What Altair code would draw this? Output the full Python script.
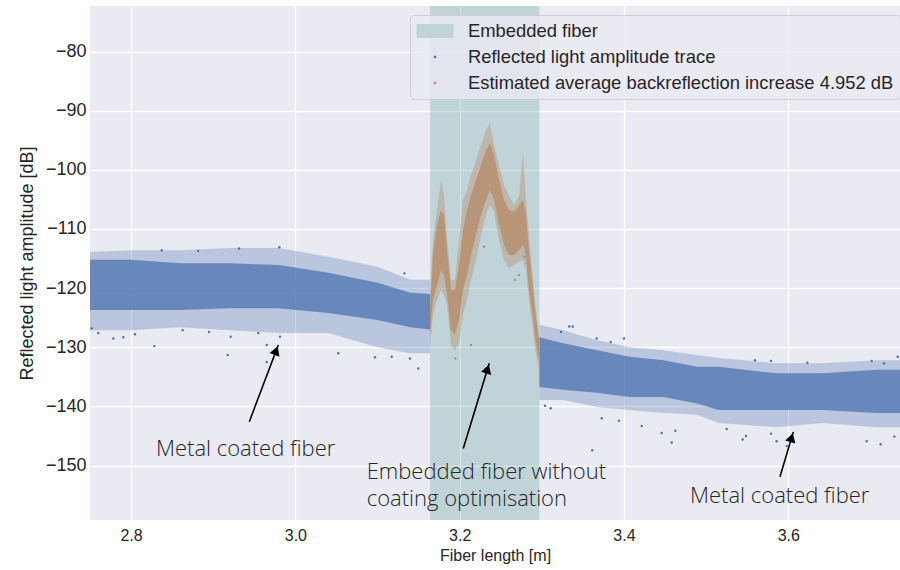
import math
import altair as alt
import pandas as pd

# ---------------- axes ----------------
X_DOMAIN = [2.75, 3.736]
Y_DOMAIN = [-159.2, -72.3]
X_TICKS = [2.8, 3.0, 3.2, 3.4, 3.6]
Y_TICKS = [-150, -140, -130, -120, -110, -100, -90, -80]
WIDTH, HEIGHT = 810, 514

# ---------------- embedded fiber region ----------------
EMB_START, EMB_END = 3.164, 3.297

# ---------------- blue trace: metal coated fiber (left) ----------------
LEFT_X = [2.75, 2.80, 2.86, 2.92, 2.98, 3.04, 3.10, 3.14, 3.164]
LEFT_CORE_TOP = [-115.2, -115.2, -115.8, -115.8, -116.1, -117.4, -119.1, -120.8, -121.0]
LEFT_CORE_BOT = [-123.7, -123.7, -123.7, -123.4, -123.4, -124.2, -125.4, -126.6, -127.0]
LEFT_OUT_TOP = [-113.9, -113.6, -113.6, -113.2, -113.2, -114.7, -116.4, -118.6, -118.6]
LEFT_OUT_BOT = [-127.1, -127.1, -126.6, -127.1, -127.6, -127.6, -130.0, -131.0, -131.0]

# ---------------- blue trace: metal coated fiber (right) ----------------
RIGHT_X = [3.297, 3.326, 3.367, 3.407, 3.448, 3.489, 3.515, 3.586, 3.641, 3.708, 3.736]
RIGHT_CORE_TOP = [-128.3, -129.3, -130.5, -131.6, -132.2, -133.3, -133.3, -134.4, -134.4, -133.8, -133.8]
RIGHT_CORE_BOT = [-136.7, -137.2, -137.7, -138.4, -138.4, -139.5, -140.6, -140.6, -140.6, -141.1, -141.1]
RIGHT_OUT_TOP = [-126.2, -127.1, -128.8, -130.0, -130.5, -131.3, -131.8, -132.7, -132.7, -132.2, -132.2]
RIGHT_OUT_BOT = [-138.9, -138.9, -140.1, -140.6, -141.1, -141.4, -142.8, -143.5, -142.8, -143.5, -143.5]

# sparse blue points outside the dense band
BLUE_PTS_X = [2.7521, 2.7601, 2.7784, 2.7905, 2.8048, 2.8283, 2.9176, 2.9213, 2.8628, 2.8949,
              2.9549, 2.8373, 2.9314, 2.8818, 2.9804, 3.0522, 3.0969, 3.1173, 3.1496, 3.1395,
              2.9651, 2.9813, 2.9651, 3.1326, 3.3614, 3.3939, 3.3729, 3.4581, 3.4459, 3.4216,
              3.4625, 3.3334, 3.3376, 3.3233, 3.4000, 3.3668, 3.3838, 3.3039, 3.3108, 3.5445,
              3.5859, 3.5981, 3.5790, 3.6955, 3.7125, 3.7291, 3.5595, 3.5790, 3.6232, 3.7015,
              3.7165, 3.7332, 3.5250, 3.5485]
BLUE_PTS_Y = [-126.8, -127.6, -128.5, -128.3, -127.8, -129.8, -131.3, -128.2, -127.1, -127.4,
              -127.6, -113.6, -113.3, -113.7, -113.1, -131.0, -131.7, -131.6, -133.6, -131.9,
              -129.6, -128.2, -132.5, -117.5, -147.4, -142.4, -142.0, -146.1, -144.5, -143.3,
              -144.1, -126.5, -126.5, -127.4, -128.5, -128.5, -129.1, -139.9, -140.3, -145.6,
              -145.9, -146.7, -144.6, -145.9, -146.4, -145.1, -132.2, -132.3, -132.6, -132.3,
              -132.7, -131.6, -143.8, -145.0]

# ---------------- orange trace: embedded fiber ----------------
ORANGE_X = [3.1639, 3.1675, 3.1724, 3.1773, 3.1809, 3.1846, 3.1894, 3.1943, 3.1992, 3.2040,
            3.2089, 3.2138, 3.2199, 3.2260, 3.2320, 3.2369, 3.2418, 3.2479, 3.2540, 3.2600,
            3.2661, 3.2722, 3.2771, 3.2807, 3.2844, 3.2893, 3.2929, 3.2966]
ORANGE_OUT_TOP = [-121.5, -111.9, -106.8, -101.7, -104.3, -111.4, -118.6, -118.6, -111.9, -105.1,
                  -103.4, -100.9, -98.3, -95.8, -93.3, -92.1, -95.8, -99.2, -102.6, -104.3,
                  -106.0, -104.3, -97.0, -105.1, -111.0, -118.6, -123.7, -127.9]
ORANGE_CORE_TOP = [-122.9, -114.4, -109.3, -106.8, -107.6, -113.6, -120.3, -120.3, -116.1, -110.2,
                   -106.8, -104.3, -101.7, -99.2, -96.7, -95.5, -97.5, -101.7, -105.1, -106.8,
                   -107.1, -106.0, -105.1, -107.6, -113.6, -120.3, -125.1, -128.8]
ORANGE_CORE_BOT = [-127.9, -122.0, -119.5, -116.9, -117.8, -121.2, -127.1, -127.9, -125.4, -120.3,
                   -117.8, -114.4, -111.0, -107.6, -105.1, -103.4, -105.1, -109.3, -112.7, -114.4,
                   -114.4, -113.6, -112.7, -114.4, -120.3, -125.4, -129.6, -132.2]
ORANGE_OUT_BOT = [-129.6, -124.5, -122.0, -120.3, -121.2, -122.9, -129.6, -130.5, -129.3, -124.5,
                  -122.0, -118.6, -115.2, -111.0, -107.6, -106.0, -107.1, -111.9, -115.2, -116.6,
                  -116.1, -115.6, -115.2, -116.9, -122.0, -127.1, -131.3, -133.5]
ORANGE_PTS_X = [3.1947, 3.2138, 3.2674, 3.2722, 3.2296, 3.2787]
ORANGE_PTS_Y = [-131.9, -129.6, -118.6, -117.8, -113.0, -114.7]

# ---------------- annotations ----------------
ANN_TEXT = ["Metal coated fiber", "Embedded fiber without", "coating optimisation", "Metal coated fiber"]
ANN_X = [2.8303, 3.0868, 3.0868, 3.4804]
ANN_Y = [-148.4, -152.2, -156.8, -156.3]

ARROW_X0 = [2.9439, 3.2044, 3.5899]
ARROW_Y0 = [-142.6, -147.1, -151.9]
ARROW_X1 = [2.9792, 3.2360, 3.6061]
ARROW_Y1 = [-129.6, -132.7, -144.3]

# ---------------- legend ----------------
LEGEND_LABELS = ["Embedded fiber", "Reflected light amplitude trace",
                 "Estimated average backreflection increase 4.952 dB"]
BLUE, ORANGE, RECT = "#4c72b0", "#dd8452", "#5f9ea0"
LEGEND_COLORS = ["#c0d3d9", BLUE, ORANGE]
LEGEND_SHAPES = ["M-1.85,-0.7H1.85V0.7H-1.85Z",
                 "M-0.12,-0.12H0.12V0.12H-0.12Z",
                 "M-0.12,-0.12H0.12V0.12H-0.12Z"]

# ---------------- data frames ----------------
band = pd.DataFrame({
    "seg": ["L"] * len(LEFT_X) + ["R"] * len(RIGHT_X),
    "x": LEFT_X + RIGHT_X,
    "core_top": LEFT_CORE_TOP + RIGHT_CORE_TOP,
    "core_bot": LEFT_CORE_BOT + RIGHT_CORE_BOT,
    "out_top": LEFT_OUT_TOP + RIGHT_OUT_TOP,
    "out_bot": LEFT_OUT_BOT + RIGHT_OUT_BOT,
})
orange = pd.DataFrame({"x": ORANGE_X, "core_top": ORANGE_CORE_TOP, "core_bot": ORANGE_CORE_BOT,
                       "out_top": ORANGE_OUT_TOP, "out_bot": ORANGE_OUT_BOT})
blue_pts = pd.DataFrame({"x": BLUE_PTS_X, "y": BLUE_PTS_Y})
orange_pts = pd.DataFrame({"x": ORANGE_PTS_X, "y": ORANGE_PTS_Y})
rect_df = pd.DataFrame({"x": [EMB_START], "x2": [EMB_END]})
ann_df = pd.DataFrame({"x": ANN_X, "y": ANN_Y, "t": ANN_TEXT})

PX_X = WIDTH / (X_DOMAIN[1] - X_DOMAIN[0])
PX_Y = HEIGHT / (Y_DOMAIN[1] - Y_DOMAIN[0])
HEAD_SIZE = 110
back = math.tan(math.radians(30)) * math.sqrt(HEAD_SIZE)
heads = []
for x0, y0, x1, y1 in zip(ARROW_X0, ARROW_Y0, ARROW_X1, ARROW_Y1):
    dx = (x1 - x0) * PX_X
    dy = -(y1 - y0) * PX_Y
    L = math.hypot(dx, dy)
    ux, uy = dx / L, dy / L
    heads.append({"x": x1 - ux * back / PX_X, "y": y1 + uy * back / PX_Y,
                  "angle": math.degrees(math.atan2(dx, -dy)) % 360})
arrow_df = pd.DataFrame({"x": ARROW_X0, "y": ARROW_Y0, "x2": ARROW_X1, "y2": ARROW_Y1})
head_df = pd.DataFrame(heads)
legend_df = pd.DataFrame({"label": LEGEND_LABELS, "x": [2.0] * 3, "y": [0.0] * 3})

SANS = "Liberation Sans, Arial, sans-serif"
xs = alt.Scale(domain=X_DOMAIN, nice=False, zero=False)
ys = alt.Scale(domain=Y_DOMAIN, nice=False, zero=False)
XAXIS = alt.Axis(values=X_TICKS, format=".1f", title="Fiber length [m]",
                 labelFont=SANS, titleFont=SANS, labelFontSize=16, titleFontSize=16,
                 labelPadding=7, titlePadding=4)
YAXIS = alt.Axis(values=Y_TICKS, format="d", title="Reflected light amplitude [dB]",
                 labelPadding=4, titlePadding=9)


def X(field="x"):
    return alt.X(f"{field}:Q", scale=xs, axis=XAXIS, title="Fiber length [m]")


def Y(field="y"):
    return alt.Y(f"{field}:Q", scale=ys, axis=YAXIS, title="Reflected light amplitude [dB]")


base_b = alt.Chart(band)
outer = base_b.mark_area(color=BLUE, opacity=0.3).encode(
    x=X(), y=Y("out_top"), y2="out_bot:Q", detail="seg:N")
core = base_b.mark_area(color=BLUE, opacity=0.75).encode(
    x=X(), y=Y("core_top"), y2="core_bot:Q", detail="seg:N")
bpts = alt.Chart(blue_pts).mark_circle(color=BLUE, size=6, opacity=1).encode(x=X(), y=Y())

base_o = alt.Chart(orange)
o_outer = base_o.mark_area(color=ORANGE, opacity=0.4).encode(x=X(), y=Y("out_top"), y2="out_bot:Q")
o_core = base_o.mark_area(color=ORANGE, opacity=0.8).encode(x=X(), y=Y("core_top"), y2="core_bot:Q")
opts = alt.Chart(orange_pts).mark_circle(color=ORANGE, size=6, opacity=1).encode(x=X(), y=Y())

rect = alt.Chart(rect_df).mark_rect(color=RECT, opacity=0.3).encode(x=X(), x2="x2:Q")

arrows = alt.Chart(arrow_df).mark_rule(color="black", strokeWidth=1.6).encode(
    x=X(), y=Y(), x2="x2:Q", y2="y2:Q")
arrow_heads = alt.Chart(head_df).mark_point(shape="triangle-up", filled=True, color="black",
                                            size=HEAD_SIZE, opacity=1).encode(
    x=X(), y=Y(), angle=alt.Angle("angle:Q", scale=None))
texts = alt.Chart(ann_df).mark_text(align="left", baseline="alphabetic", font="Open Sans",
                                    fontSize=22, fontWeight=300, color="#262626").encode(
    x=X(), y=Y(), text="t:N")

leg = alt.Legend(title=None, orient="none", legendX=320, legendY=9, padding=6,
                 fillColor="rgba(234,234,242,0.8)", strokeColor="rgba(204,204,204,0.9)",
                 cornerRadius=4, labelFont=SANS, labelFontSize=18.4,
                 labelColor="#262626", symbolSize=400, symbolOffset=9, labelOffset=23,
                 rowPadding=6, symbolStrokeWidth=0, labelLimit=600)
legend_layer = alt.Chart(legend_df).mark_point(filled=True, opacity=1, clip=True).encode(
    x=X(), y=Y(),
    color=alt.Color("label:N", scale=alt.Scale(domain=LEGEND_LABELS, range=LEGEND_COLORS), legend=leg),
    shape=alt.Shape("label:N", scale=alt.Scale(domain=LEGEND_LABELS, range=LEGEND_SHAPES), legend=leg),
)

chart = alt.layer(bpts, outer, core, o_outer, o_core, opts, rect, arrows, arrow_heads, texts,
                  legend_layer).properties(
    width=WIDTH, height=HEIGHT,
    autosize=alt.AutoSizeParams(type="none"),
    padding={"left": 90, "top": 6, "right": 0, "bottom": 50},
    background="white",
).configure_view(fill="#eaeaf2", stroke=None).configure_axis(
    grid=True, gridColor="white", gridWidth=1.3, domain=False, ticks=False,
    labelFont=SANS, labelFontSize=18, labelColor="#262626",
    titleFont=SANS, titleFontSize=18, titleFontWeight="normal", titleColor="#262626",
)

chart.save("out.html", embed_options={"renderer": "svg", "actions": False})
